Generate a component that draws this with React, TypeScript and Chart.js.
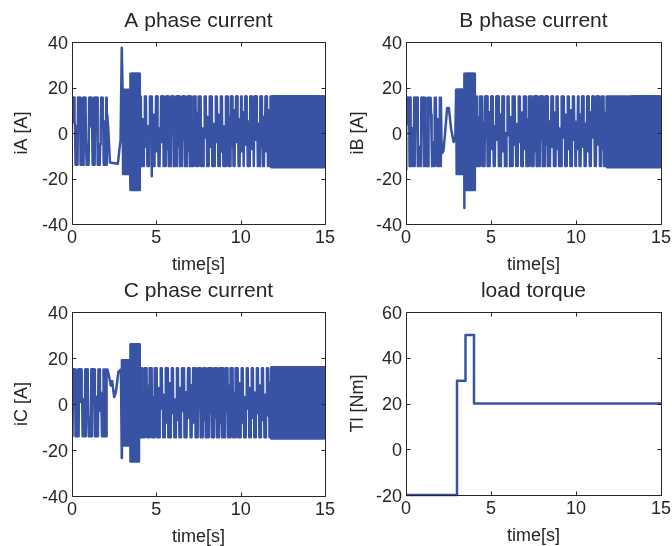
import React, { useEffect, useRef } from "react";
import { Chart, registerables } from "chart.js";
Chart.register(...registerables);

const W = 672;
const H = 546;
const LINE_COLOR = "#3953a4";
const TEXT_COLOR = "#262626";
const FONT = '"Liberation Sans", Arial, sans-serif';

const timeTicks = [0, 5, 10, 15];
const currentTicks = [-40, -20, 0, 20, 40];
const torqueTicks = [-20, 0, 20, 40, 60];

// Oscillating envelopes: [tStart, tEnd, upper peak, lower peak]
const iaBands = [
  [0, 2.06, 15.5, -14],
  [3.0, 3.45, 19, -18],
  [3.45, 4.02, 26, -25],
  [4.02, 11.8, 16, -14.5],
  [11.8, 15, 16, -15],
];
// Non-periodic points of the trace: [t, value]
const iaTransient = [
  [2.09, 8], [2.15, 2], [2.25, -13], [2.72, -13.5], [2.8, -8], [2.88, -3], [2.95, 37.5], [4.72, -19],
];
// Light slits in the dense band: [t, depth reached]
const iaTopSlits = [
  [0.24, 3], [0.57, -7], [0.91, -5], [1.23, 3], [1.62, -5], [1.91, 5],
  [4.2, 6], [4.5, 3], [4.85, 8], [5.15, 2], [5.5, 7], [5.8, -2], [6.1, 6], [6.45, 3], [6.75, 8],
  [7.1, 5], [7.4, 9], [7.75, 2], [8.05, 7], [8.4, 4], [8.7, 8], [9.0, 3], [9.35, 7], [9.62, 10],
  [9.92, 6], [10.15, 9], [10.45, 5], [10.71, 8], [11.04, 4], [11.34, 7], [11.64, 10],
];
const iaBottomSlits = [
  [0.08, 5], [0.43, 3], [0.77, 10], [1.1, 3], [1.42, 8], [1.76, 3],
  [4.35, -6], [4.65, -3], [5.0, -8], [5.3, -4], [5.65, -7], [5.95, 0], [6.3, -6], [6.6, -3],
  [6.9, -8], [7.25, -5], [7.55, -7], [7.9, -2], [8.2, -6], [8.55, -4], [8.85, -8], [9.2, -3],
  [9.5, -6], [9.76, -4], [10.05, -8], [10.31, -5], [10.65, -7], [10.9, -3], [11.24, -6], [11.5, -8],
];

const ibBands = [
  [0, 2.05, 15.5, -14.5],
  [2.95, 3.42, 19, -18],
  [3.42, 4.05, 26, -25],
  [4.05, 11.8, 16, -14.5],
  [11.8, 15, 16, -15],
];
const ibTransient = [
  [0, -16], [2.1, -9], [2.2, -8], [2.3, 0], [2.42, 11], [2.52, 11], [2.65, 2], [2.8, -4], [2.9, -2], [3.43, -33],
];
const ibTopSlits = [
  [0.35, 2], [0.78, -6], [1.18, 4], [1.57, -4], [1.86, 6],
  [4.25, 7], [4.55, 4], [4.9, 9], [5.2, 3], [5.55, 8], [5.85, 0], [6.15, 7], [6.5, 4], [6.8, 9],
  [7.15, 6], [7.45, 8], [7.8, 3], [8.1, 6], [8.45, 5], [8.75, 9], [9.05, 2], [9.4, 8], [9.7, 10],
  [10.0, 5], [10.25, 8], [10.55, 4], [10.85, 9], [11.1, 5], [11.4, 6], [11.7, 9],
];
const ibBottomSlits = [
  [0.1, 4], [0.59, 6], [0.98, 2], [1.41, 8], [1.76, 3],
  [4.4, -5], [4.7, -2], [5.05, -7], [5.35, -3], [5.7, -8], [6.0, -1], [6.35, -5], [6.65, -4],
  [6.95, -7], [7.3, -4], [7.6, -8], [7.95, -3], [8.25, -5], [8.6, -6], [8.9, -7], [9.25, -2],
  [9.55, -7], [9.85, -3], [10.1, -7], [10.4, -6], [10.7, -8], [11.0, -2], [11.3, -5], [11.55, -7],
];

const icBands = [
  [0, 2.05, 15, -14],
  [2.96, 3.45, 19, -18],
  [3.45, 4.0, 26, -25],
  [4.0, 11.8, 15.5, -14.5],
  [11.8, 15, 16, -15],
];
const icTransient = [
  [2.1, 15], [2.2, 12], [2.3, 8], [2.38, 10], [2.5, 3], [2.6, 5], [2.75, 14], [2.9, 15], [2.95, -23.5],
];
const icTopSlits = [
  [0.28, -4], [0.67, 2], [1.03, -6], [1.46, 3], [1.76, -3],
  [4.2, 5], [4.5, 8], [4.8, 3], [5.15, 7], [5.45, 4], [5.8, 9], [6.1, 2], [6.4, 7], [6.75, 5],
  [7.05, 8], [7.4, 3], [7.7, 6], [8.0, 9], [8.35, 4], [8.65, 7], [9.0, 2], [9.3, 8], [9.6, 5],
  [9.95, 9], [10.25, 3], [10.55, 7], [10.85, 5], [11.15, 8], [11.45, 4], [11.7, 9],
];
const icBottomSlits = [
  [0.12, 6], [0.52, 1], [0.9, 7], [1.26, 2], [1.66, 5],
  [4.35, -7], [4.65, -3], [4.95, -6], [5.3, -2], [5.6, -8], [5.95, -4], [6.25, -7], [6.55, -3],
  [6.9, -6], [7.2, -8], [7.55, -2], [7.85, -7], [8.2, -4], [8.5, -6], [8.8, -8], [9.15, -3],
  [9.45, -7], [9.75, -4], [10.1, -8], [10.4, -2], [10.7, -6], [11.0, -4], [11.3, -7], [11.6, -5],
];

// Load torque steps
const torqueTimes = [0, 3, 3, 3.5, 3.5, 4, 4, 15];
const torqueValues = [-20, -20, 30, 30, 50, 50, 20, 20];

const HALF_STEP = 0.03;
const SLIT_HALF = 0.075;

type Pt = { x: number; y: number };

function buildCurrent(
  bands: number[][],
  transient: number[][],
  topSlits: number[][],
  bottomSlits: number[][]
): Pt[] {
  const pts: Pt[] = [];
  for (const [t0, t1, hi, lo] of bands) {
    const n = Math.round((t1 - t0) / HALF_STEP);
    for (let k = 0; k <= n; k++) {
      const t = t0 + ((t1 - t0) * k) / n;
      const isTop = k % 2 === 0;
      let v = isTop ? hi : lo;
      const slits = isTop ? topSlits : bottomSlits;
      for (const [ts, d] of slits) {
        if (Math.abs(t - ts) <= SLIT_HALF) v = d;
      }
      pts.push({ x: t, y: v });
    }
  }
  for (const [t, v] of transient) pts.push({ x: t, y: v });
  pts.sort((a, b) => a.x - b.x);
  return pts;
}

type Area = { left: number; right: number; top: number; bottom: number };
type Panel = {
  area: Area;
  title: string;
  yLabel: string;
  yLabelOffset: number;
  yMin: number;
  yMax: number;
  yTicks: number[];
  data: Pt[];
  lineWidth: number;
  clip: number | boolean;
};

const panels: Panel[] = [
  {
    area: { left: 72, right: 325, top: 42, bottom: 224 },
    title: "A phase current",
    yLabel: "iA [A]",
    yLabelOffset: 50,
    yMin: -40,
    yMax: 40,
    yTicks: currentTicks,
    data: buildCurrent(iaBands, iaTransient, iaTopSlits, iaBottomSlits),
    lineWidth: 2.5,
    clip: 0,
  },
  {
    area: { left: 406, right: 661, top: 42, bottom: 224 },
    title: "B phase current",
    yLabel: "iB [A]",
    yLabelOffset: 48,
    yMin: -40,
    yMax: 40,
    yTicks: currentTicks,
    data: buildCurrent(ibBands, ibTransient, ibTopSlits, ibBottomSlits),
    lineWidth: 2.5,
    clip: 0,
  },
  {
    area: { left: 72, right: 325, top: 312, bottom: 496 },
    title: "C phase current",
    yLabel: "iC [A]",
    yLabelOffset: 50,
    yMin: -40,
    yMax: 40,
    yTicks: currentTicks,
    data: buildCurrent(icBands, icTransient, icTopSlits, icBottomSlits),
    lineWidth: 2.5,
    clip: 0,
  },
  {
    area: { left: 406, right: 661, top: 312, bottom: 495 },
    title: "load torque",
    yLabel: "Tl [Nm]",
    yLabelOffset: 48,
    yMin: -20,
    yMax: 60,
    yTicks: torqueTicks,
    data: torqueTimes.map((t, i) => ({ x: t, y: torqueValues[i] })),
    lineWidth: 2.5,
    clip: 3,
  },
];

function axesPlugin(p: Panel) {
  return {
    id: "matlabAxes",
    afterDraw(chart: any) {
      const { ctx, chartArea: a, scales } = chart;
      const xs = scales.x;
      const ys = scales.y;
      ctx.save();
      ctx.strokeStyle = TEXT_COLOR;
      ctx.lineWidth = 1;
      const L = Math.round(a.left) + 0.5;
      const R = Math.round(a.right) + 0.5;
      const T = Math.round(a.top) + 0.5;
      const B = Math.round(a.bottom) + 0.5;
      ctx.beginPath();
      ctx.rect(L, T, R - L, B - T);
      const tl = 4;
      for (const v of timeTicks) {
        const px = Math.round(xs.getPixelForValue(v)) + 0.5;
        ctx.moveTo(px, B);
        ctx.lineTo(px, B - tl);
        ctx.moveTo(px, T);
        ctx.lineTo(px, T + tl);
      }
      for (const v of p.yTicks) {
        const py = Math.round(ys.getPixelForValue(v)) + 0.5;
        ctx.moveTo(L, py);
        ctx.lineTo(L + tl, py);
        ctx.moveTo(R, py);
        ctx.lineTo(R - tl, py);
      }
      ctx.stroke();

      ctx.fillStyle = TEXT_COLOR;
      ctx.font = `18px ${FONT}`;
      ctx.textBaseline = "alphabetic";
      ctx.textAlign = "center";
      for (const v of timeTicks) {
        ctx.fillText(String(v), xs.getPixelForValue(v), a.bottom + 19);
      }
      ctx.textAlign = "right";
      for (const v of p.yTicks) {
        ctx.fillText(String(v), a.left - 4, ys.getPixelForValue(v) + 6.5);
      }
      ctx.textAlign = "center";
      ctx.fillText("time[s]", (a.left + a.right) / 2, a.bottom + 46);

      ctx.font = `21px ${FONT}`;
      ctx.fillText(p.title, (a.left + a.right) / 2, a.top - 15);

      ctx.font = `18px ${FONT}`;
      ctx.translate(a.left - p.yLabelOffset, (a.top + a.bottom) / 2);
      ctx.rotate(-Math.PI / 2);
      ctx.textBaseline = "middle";
      ctx.fillText(p.yLabel, 0, 0);
      ctx.restore();
    },
  };
}

function makeChart(canvas: HTMLCanvasElement, p: Panel) {
  return new Chart(canvas, {
    type: "line",
    data: {
      datasets: [
        {
          data: p.data as any,
          borderColor: LINE_COLOR,
          borderWidth: p.lineWidth,
          pointRadius: 0,
          tension: 0,
          fill: false,
          clip: p.clip as any,
          borderJoinStyle: "round",
          borderCapStyle: "butt",
        },
      ],
    },
    options: {
      animation: false,
      responsive: false,
      maintainAspectRatio: false,
      devicePixelRatio: 1,
      events: [],
      layout: {
        padding: {
          left: p.area.left,
          top: p.area.top,
          right: W - p.area.right,
          bottom: H - p.area.bottom,
        },
      },
      scales: {
        x: { type: "linear", min: 0, max: 15, display: false },
        y: { type: "linear", min: p.yMin, max: p.yMax, display: false },
      },
      plugins: {
        legend: { display: false },
        tooltip: { enabled: false },
        title: { display: false },
      },
    },
    plugins: [axesPlugin(p)],
  } as any);
}

export default function App() {
  const r0 = useRef<HTMLCanvasElement>(null);
  const r1 = useRef<HTMLCanvasElement>(null);
  const r2 = useRef<HTMLCanvasElement>(null);
  const r3 = useRef<HTMLCanvasElement>(null);
  const refs = [r0, r1, r2, r3];
  useEffect(() => {
    const charts = panels.map((p, i) => makeChart(refs[i].current as HTMLCanvasElement, p));
    return () => charts.forEach((c) => c.destroy());
  }, []);
  return (
    <div style={{ position: "absolute", left: 0, top: 0, width: W, height: H, background: "#fff" }}>
      {panels.map((p, i) => (
        <canvas
          key={i}
          ref={refs[i]}
          width={W}
          height={H}
          style={{ position: "absolute", left: 0, top: 0, width: W, height: H }}
        />
      ))}
    </div>
  );
}
